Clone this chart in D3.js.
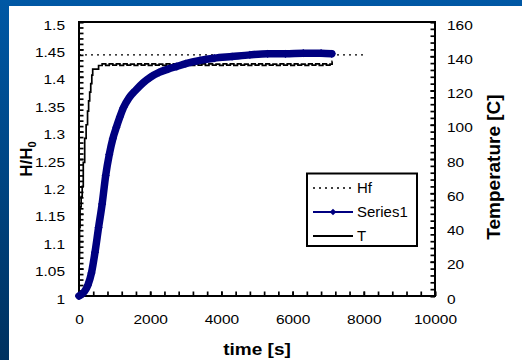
<!DOCTYPE html>
<html>
<head>
<meta charset="utf-8">
<script src="https://cdn.jsdelivr.net/npm/d3@7"></script>
<style>
    body { margin: 0; overflow: hidden; }
    svg { display: block; }
</style>
</head>
<body>
<div id="graph"></div>
<script>
// tick values
const timeTicks = [0, 2000, 4000, 6000, 8000, 10000];
const hTicks = [1, 1.05, 1.1, 1.15, 1.2, 1.25, 1.3, 1.35, 1.4, 1.45, 1.5];
const tempTicks = [0, 20, 40, 60, 80, 100, 120, 140, 160];

// Hf: final height (dotted)
const hfSeries = [[0, 1.44], [8000, 1.44]];

// Series1: H/H0 against time [s]
const series1 = [
    [0, 1.000], [50, 1.002], [150, 1.008], [250, 1.020], [350, 1.042],
    [450, 1.080], [550, 1.125], [650, 1.168], [750, 1.220], [850, 1.258],
    [950, 1.287], [1050, 1.308], [1150, 1.327], [1250, 1.344], [1400, 1.361],
    [1600, 1.376], [1800, 1.389], [2000, 1.399], [2250, 1.408], [2500, 1.414],
    [2750, 1.419], [3000, 1.424], [3400, 1.430], [3800, 1.434], [4300, 1.437],
    [4800, 1.440], [5300, 1.442], [5800, 1.442], [6300, 1.443], [6800, 1.443],
    [7100, 1.442]
];

// T: temperature [C] against time [s]
const tempSeries = [
    [0, 22], [15, 40], [30, 52], [60, 58], [90, 64], [120, 78], [160, 92],
    [200, 100], [240, 108], [270, 114], [300, 119], [330, 124], [360, 129],
    [385, 132.5], [550, 134.6], [650, 135.5], [750, 134.7], [850, 135.5],
    [950, 134.8], [1050, 135.5], [1150, 134.7], [1250, 135.5], [1350, 134.8],
    [1450, 135.4], [1550, 134.7], [1650, 135.5], [1750, 134.8], [1850, 135.5],
    [1950, 134.7], [2050, 135.5], [2150, 134.8], [2250, 135.4], [2350, 134.7],
    [2450, 135.5], [2550, 134.8], [2650, 135.5], [2750, 134.7], [2850, 135.5],
    [2950, 134.8], [3050, 135.4], [3150, 134.7], [3250, 135.5], [3350, 134.8],
    [3450, 135.5], [3550, 134.7], [3650, 135.5], [3750, 134.8], [3850, 135.4],
    [3950, 134.7], [4050, 135.5], [4150, 134.8], [4250, 135.5], [4350, 134.7],
    [4450, 135.5], [4550, 134.8], [4650, 135.4], [4750, 134.7], [4850, 135.5],
    [4950, 134.8], [5050, 135.5], [5150, 134.7], [5250, 135.5], [5350, 134.8],
    [5450, 135.4], [5550, 134.7], [5650, 135.5], [5750, 134.8], [5850, 135.5],
    [5950, 134.7], [6050, 135.5], [6150, 134.8], [6250, 135.4], [6350, 134.7],
    [6450, 135.5], [6550, 134.8], [6650, 135.5], [6750, 134.7], [6850, 135.5],
    [6950, 134.8], [7050, 135.4], [7110, 137], [7120, 137]
];

const legendItems = ["Hf", "Series1", "T"];

const width = 522;
const height = 360;
const plot = {left: 79, top: 22, right: 435, bottom: 296};
const navy = "#000080";
const font = "'Liberation Sans', Arial, sans-serif";

// text in the picture is wider than it is tall
const stretch = (sel, k) => sel.each(function () {
    const t = d3.select(this);
    const x = +t.attr("x") || 0;
    t.attr("x", x / k).attr("transform", `scale(${k},1)`);
});

const xScale = d3.scaleLinear().domain([0, 10000]).range([plot.left, plot.right]);
const hScale = d3.scaleLinear().domain([1, 1.5]).range([plot.bottom, plot.top]);
const tempScale = d3.scaleLinear().domain([0, 160]).range([plot.bottom, plot.top]);

const svg = d3.select("#graph")
    .append("svg")
    .attr("width", width)
    .attr("height", height);

const grad = svg.append("defs").append("linearGradient")
    .attr("id", "bg")
    .attr("x1", 0).attr("y1", 0).attr("x2", 0).attr("y2", 1);
grad.append("stop").attr("offset", 0).attr("stop-color", "#0058a5");
grad.append("stop").attr("offset", 1).attr("stop-color", "#00315f");

svg.append("rect").attr("width", width).attr("height", height).attr("fill", "url(#bg)");
svg.append("rect").attr("x", 9).attr("y", 6).attr("width", width - 9).attr("height", height - 6).attr("fill", "#fff");

const styleTicks = g => {
    g.select(".domain").remove();
    g.selectAll("line").attr("stroke", "#000").attr("stroke-width", 1.7);
    g.selectAll("text").attr("font-family", font).attr("font-size", 13).attr("fill", "#000");
};

// minor ticks
svg.append("g")
    .attr("transform", `translate(0, ${plot.bottom})`)
    .call(d3.axisBottom(xScale).tickValues(d3.range(0, 10001, 400)).tickFormat(() => "").tickSizeInner(-4.5).tickSizeOuter(0))
    .call(styleTicks);
svg.append("g")
    .attr("transform", `translate(${plot.left}, 0)`)
    .call(d3.axisLeft(hScale).tickValues(d3.range(0, 51).map(i => 1 + i / 100)).tickFormat(() => "").tickSizeInner(-4.5).tickSizeOuter(0))
    .call(styleTicks);
svg.append("g")
    .attr("transform", `translate(${plot.right}, 0)`)
    .call(d3.axisRight(tempScale).tickValues(d3.range(0, 161, 4)).tickFormat(() => "").tickSizeInner(-4.5).tickSizeOuter(0))
    .call(styleTicks);

// labelled axes
svg.append("g")
    .attr("transform", `translate(0, ${plot.bottom})`)
    .call(d3.axisBottom(xScale).tickValues(timeTicks).tickFormat(d3.format("d")).tickSizeInner(-4.5).tickSizeOuter(0).tickPadding(19))
    .call(styleTicks)
    .selectAll("text").call(stretch, 1.19);

svg.append("g")
    .attr("transform", `translate(${plot.left}, 0)`)
    .call(d3.axisLeft(hScale).tickValues(hTicks).tickFormat(d => String(+d.toFixed(2))).tickSizeInner(-4.5).tickSizeOuter(0).tickPadding(14))
    .call(styleTicks)
    .selectAll("text").attr("y", 3).call(stretch, 1.19);

svg.append("g")
    .attr("transform", `translate(${plot.right}, 0)`)
    .call(d3.axisRight(tempScale).tickValues(tempTicks).tickFormat(d3.format("d")).tickSizeInner(-4.5).tickSizeOuter(0).tickPadding(12))
    .call(styleTicks)
    .selectAll("text").attr("y", 3).call(stretch, 1.19);

svg.append("rect")
    .attr("x", plot.left).attr("y", plot.top)
    .attr("width", plot.right - plot.left).attr("height", plot.bottom - plot.top)
    .attr("fill", "none").attr("stroke", "#000").attr("stroke-width", 2);

// Hf
svg.append("path")
    .datum(hfSeries)
    .attr("fill", "none")
    .attr("stroke", "#000")
    .attr("stroke-width", 1.4)
    .attr("stroke-dasharray", "2,4")
    .attr("d", d3.line().x(d => xScale(d[0])).y(d => hScale(d[1])));

// T
svg.append("path")
    .datum(tempSeries)
    .attr("fill", "none")
    .attr("stroke", "#000")
    .attr("stroke-width", 1.7)
    .attr("d", d3.line().curve(d3.curveStepAfter).x(d => xScale(d[0])).y(d => tempScale(d[1])));

// Series1: dense markers make a thick band
svg.append("path")
    .datum(series1)
    .attr("fill", "none")
    .attr("stroke", navy)
    .attr("stroke-width", 7.5)
    .attr("stroke-linejoin", "round")
    .attr("stroke-linecap", "round")
    .attr("d", d3.line().curve(d3.curveMonotoneX).x(d => xScale(d[0])).y(d => hScale(d[1])));

svg.append("g")
    .selectAll("path")
    .data(series1)
    .join("path")
    .attr("transform", d => `translate(${xScale(d[0])}, ${hScale(d[1])}) rotate(45)`)
    .attr("fill", navy)
    .attr("d", d3.symbol(d3.symbolSquare, 34));

// axis titles
svg.append("text")
    .attr("transform", "translate(32, 159) rotate(-90)")
    .attr("text-anchor", "middle")
    .attr("font-family", font)
    .attr("font-weight", "bold")
    .attr("font-size", 17)
    .text("H/H")
    .append("tspan")
    .attr("font-size", 11)
    .attr("dy", 4)
    .text("0");

svg.append("text")
    .attr("transform", "translate(500, 167) rotate(-90)")
    .attr("text-anchor", "middle")
    .attr("font-family", font)
    .attr("font-weight", "bold")
    .attr("font-size", 19)
    .text("Temperature [C]");

svg.append("text")
    .attr("x", 257)
    .attr("y", 355)
    .attr("text-anchor", "middle")
    .attr("font-family", font)
    .attr("font-weight", "bold")
    .attr("font-size", 17)
    .text("time [s]")
    .call(stretch, 1.12);

// legend
const legend = svg.append("g");
legend.append("rect")
    .attr("x", 307).attr("y", 173.5).attr("width", 110).attr("height", 72.5)
    .attr("fill", "#fff").attr("stroke", "#000").attr("stroke-width", 2);

const rows = legend.selectAll("g.row")
    .data(legendItems)
    .join("g")
    .attr("class", "row")
    .attr("transform", (d, i) => `translate(0, ${188 + i * 24})`);

rows.append("line")
    .attr("x1", 313).attr("x2", 353)
    .attr("stroke", d => d === "Series1" ? navy : "#000")
    .attr("stroke-width", d => d === "Hf" ? 1.4 : 2)
    .attr("stroke-dasharray", d => d === "Hf" ? "2,4" : null);

rows.filter(d => d === "Series1")
    .append("path")
    .attr("transform", "translate(333, 0) rotate(45)")
    .attr("fill", navy)
    .attr("d", d3.symbol(d3.symbolSquare, 22));

rows.append("text")
    .attr("x", 357)
    .attr("y", 5)
    .attr("font-family", font)
    .attr("font-size", 14)
    .text(d => d)
    .call(stretch, 1.07);
</script>
</body>
</html>
